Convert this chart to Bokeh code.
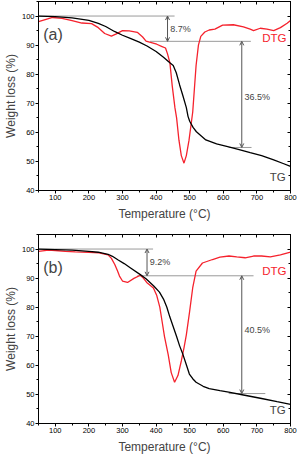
from bokeh.plotting import figure
from bokeh.models import LinearAxis, Range1d, Arrow, OpenHead, Label, FixedTicker
from bokeh.layouts import column
from bokeh.embed import file_html
from bokeh.resources import INLINE

# ---------------- data: panel (a) ----------------
tg_a_temp = [50, 100, 150, 200, 228, 250, 276, 300, 325, 350, 373, 400, 422, 440, 451, 460, 470,
             480, 490, 495, 500, 510, 520, 548, 580, 616, 650, 680, 714, 750, 780, 800]
tg_a_val = [100, 99.8, 99.4, 98.5, 97.5, 96.4, 94.7, 93.4, 92.2, 91.0, 89.7, 87.8, 85.8, 84.0, 83.0,
            80.5, 76.3, 72.5, 68.5, 65.5, 63.8, 61.7, 60.2, 57.4, 56.0, 55.0, 54.0, 53.0, 52.0, 50.5,
            49.2, 48.3]
dtg_a_temp = [50, 70, 92, 120, 150, 179, 208, 228, 247, 267, 280, 300, 320, 344, 360, 370, 402, 416,
              428, 434, 441, 448, 456, 461, 468, 475, 483, 490, 498, 509, 514, 519, 526, 533, 545,
              558, 575, 598, 630, 660, 680, 690, 710, 730, 750, 770, 790, 800]
dtg_a_val = [98.1, 98.8, 99.5, 99.2, 98.4, 97.6, 97.4, 96.0, 94.0, 93.1, 93.8, 95.0, 94.9, 94.4, 92.8,
             91.4, 90.3, 89.6, 89.0, 87.0, 84.0, 76.0, 68.5, 65.0, 57.3, 52.0, 49.4, 52.0, 57.3, 67.0,
             75.0, 83.0, 90.0, 93.0, 94.5, 95.2, 95.5, 96.9, 97.0, 96.3, 95.5, 95.0, 95.8, 95.5, 95.0,
             96.0, 97.5, 98.5]

# ---------------- data: panel (b) ----------------
tg_b_temp = [50, 100, 150, 200, 228, 257, 270, 286, 305, 324, 353, 370, 393, 410, 422, 432, 441, 451,
             461, 470, 480, 490, 499, 509, 519, 540, 558, 590, 616, 660, 714, 760, 800]
tg_b_val = [100, 99.8, 99.6, 99.2, 98.9, 98.2, 97.5, 96.3, 95.0, 93.5, 91.2, 89.8, 87.3, 85.2, 82.8,
            80.0, 76.6, 73.3, 69.9, 66.7, 63.7, 60.2, 57.0, 55.4, 54.2, 52.8, 52.0, 51.3, 50.8, 49.8,
            48.6, 47.5, 46.6]
dtg_b_temp = [50, 80, 100, 130, 160, 200, 230, 257, 267, 277, 285, 291, 300, 315, 334, 353, 362, 372,
              392, 402, 411, 418, 425, 436, 445, 455, 465, 475, 483, 490, 499, 509, 519, 538, 568,
              590, 617, 640, 665, 690, 714, 740, 770, 800]
dtg_b_val = [99.2, 99.6, 99.5, 99.2, 99.0, 98.9, 98.7, 98.0, 96.8, 94.7, 92.5, 90.7, 89.0, 88.5, 89.9,
             91.0, 90.0, 88.5, 86.6, 84.0, 80.0, 75.0, 69.9, 63.7, 57.5, 54.2, 56.5, 61.5, 66.0, 70.5,
             77.9, 86.7, 92.4, 95.2, 96.4, 97.2, 97.6, 97.3, 97.0, 97.6, 97.6, 97.3, 98.0, 98.9]

# ---------------- annotation values ----------------
x_ticks = [100, 200, 300, 400, 500, 600, 700, 800]
y_ticks = [40, 50, 60, 70, 80, 90, 100]
step_a = [100, 91.3, 54.8]          # levels for 8.7 % and 36.5 %
step_b = [100, 90.8, 50.3]          # levels for 9.2 % and 40.5 %
labels_a = ["8.7%", "36.5%"]
labels_b = ["9.2%", "40.5%"]
x_title = "Temperature (°C)"
y_title = "Weight loss (%)"

FONT = "Liberation Sans"
GRAY = "#9a9a9a"
ARROW = "#555555"
RED = "#f5222d"


def style_axis(ax, outer=True, show_labels=True):
    ax.axis_line_color = "black"
    ax.major_tick_line_color = "black"
    ax.minor_tick_line_color = "black"
    if outer:
        ax.major_tick_out, ax.major_tick_in = 3, 0
        ax.minor_tick_out, ax.minor_tick_in = 2, 0
    else:
        ax.major_tick_out, ax.major_tick_in = 0, 3
        ax.minor_tick_out, ax.minor_tick_in = 0, 2
    ax.major_label_text_font = FONT
    ax.major_label_text_font_size = "7.5px" if show_labels else "0px"
    ax.major_label_text_color = "black" if show_labels else None
    ax.major_label_standoff = 1
    ax.axis_label_text_font = FONT
    ax.axis_label_text_font_size = "12px"
    ax.axis_label_text_font_style = "normal"
    ax.axis_label_standoff = 4


def panel(tg_t, tg_v, dtg_t, dtg_v, steps, labels, tag, geo, height, top_border, bottom_border):
    xt = FixedTicker(ticks=x_ticks, minor_ticks=list(range(50, 801, 50)))
    yt = FixedTicker(ticks=y_ticks, minor_ticks=list(range(40, 106, 5)))
    p = figure(width=298, height=height, output_backend="svg", toolbar_location=None,
               x_range=Range1d(50, 800), y_range=Range1d(40, 105),
               min_border_left=31, min_border_right=8, min_border_top=top_border,
               min_border_bottom=bottom_border)
    p.grid.visible = False
    p.outline_line_color = "black"
    p.background_fill_color = "white"
    p.border_fill_color = "white"
    p.xaxis.ticker = xt
    p.yaxis.ticker = yt
    p.xaxis.axis_label = x_title
    p.yaxis.axis_label = y_title
    for ax in p.xaxis + p.yaxis:
        style_axis(ax)
    p.yaxis.axis_label_standoff = 1
    top = LinearAxis(ticker=FixedTicker(ticks=x_ticks, minor_ticks=list(range(50, 801, 50))))
    right = LinearAxis(ticker=FixedTicker(ticks=y_ticks, minor_ticks=list(range(40, 106, 5))))
    style_axis(top, outer=False, show_labels=False)
    style_axis(right, outer=False, show_labels=False)
    top.major_label_standoff = 0
    right.major_label_standoff = 0
    p.add_layout(top, "above")
    p.add_layout(right, "right")

    # gray guide lines
    (x_top_end, x_mid0, x_mid1, x_low0, x_low1, x_arr1, x_arr2) = geo
    p.segment(x0=[50, x_mid0, x_low0], y0=[steps[0], steps[1], steps[2]],
              x1=[x_top_end, x_mid1, x_low1], y1=[steps[0], steps[1], steps[2]],
              line_color=GRAY, line_width=1)
    for xa, y0, y1 in [(x_arr1, steps[0], steps[1]), (x_arr2, steps[1], steps[2])]:
        p.add_layout(Arrow(x_start=xa, y_start=y0, x_end=xa, y_end=y1,
                           line_color=ARROW, line_width=1,
                           start=OpenHead(size=4, line_color=ARROW, line_width=1),
                           end=OpenHead(size=4, line_color=ARROW, line_width=1)))
    p.add_layout(Label(x=x_arr1 + 8, y=(steps[0] + steps[1]) / 2, text=labels[0],
                       text_font=FONT, text_font_size="9px", text_baseline="middle"))
    p.add_layout(Label(x=x_arr2 + 8, y=72, text=labels[1],
                       text_font=FONT, text_font_size="9px", text_baseline="middle"))

    # curves
    p.line(dtg_t, dtg_v, line_color=RED, line_width=1.3)
    p.line(tg_t, tg_v, line_color="black", line_width=1.3)

    p.add_layout(Label(x=64, y=93.5, text=tag, text_font=FONT, text_font_size="16px",
                       text_baseline="middle"))
    p.add_layout(Label(x=788, y=92.5, text="DTG", text_font=FONT, text_font_size="11.5px",
                       text_color=RED, text_align="right", text_baseline="middle"))
    p.add_layout(Label(x=786, y=44.5, text="TG", text_font=FONT, text_font_size="11.5px",
                       text_align="right", text_baseline="middle"))
    return p


pa = panel(tg_a_temp, tg_a_val, dtg_a_temp, dtg_a_val, step_a, labels_a, "(a)",
           (455, 382, 682, 616, 684, 434, 655), 230, 1, 40)
pb = panel(tg_b_temp, tg_b_val, dtg_b_temp, dtg_b_val, step_b, labels_b, "(b)",
           (391, 344, 690, 616, 725, 373, 655), 226, 4, 32)

layout = column(pa, pb, spacing=0)
open("out.html", "w").write(file_html(layout, INLINE))
